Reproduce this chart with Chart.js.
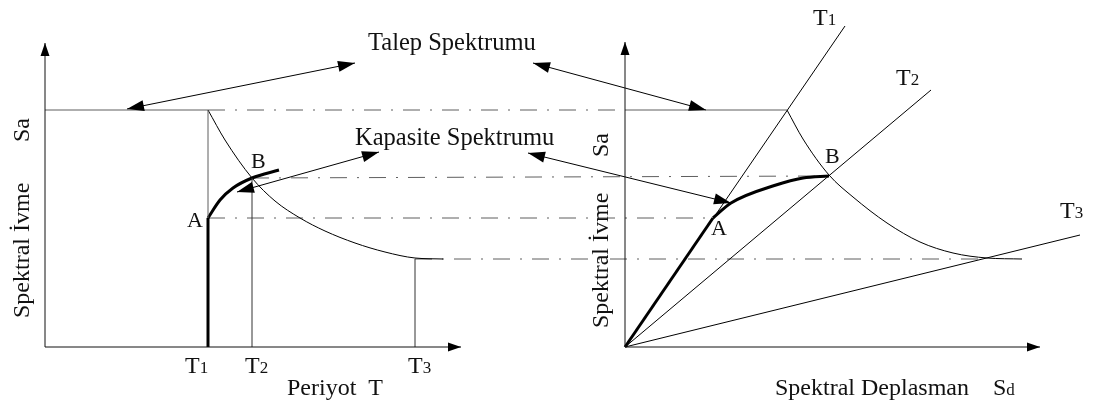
<!DOCTYPE html>
<html>
<head>
<meta charset="utf-8">
<script src="https://cdn.jsdelivr.net/npm/chart.js@4.4.1/dist/chart.umd.min.js"></script>
<style>
  html, body { margin: 0; padding: 0; background: #fff; }
  #wrap { position: relative; width: 1093px; height: 408px; }
</style>
</head>
<body>
<div id="wrap"><canvas id="chart"></canvas></div>
<script>
// ===== DATA =====
// Left panel: spectral acceleration Sa against period T
const periodT   = [163, 207, 370];                 // T1, T2, T3
const saPlateau = 237;
const saA = 129, saB = 169, saT3 = 88;
const demandT   = [163, 180, 207, 230, 255, 280, 310, 340, 370, 398];
const demandSaT = [237, 207, 169, 146, 129, 116, 104, 95, 89, 88];
const capT      = [163, 175, 188, 207, 234];
const capSaT    = [129, 147, 159, 169, 177];

// Right panel: Sa against spectral displacement Sd
const rayEndSd  = [220, 306, 455];                 // T1, T2, T3 radial lines
const rayEndSa  = [321, 257, 112];
const demandSd  = [162, 178, 204, 228, 262, 295, 328, 362, 397];
const demandSaD = [237, 208, 172, 150, 124, 105, 94, 89, 88];
const capSd     = [88, 106, 151, 178, 204];
const capSaD    = [129, 144, 162, 169, 171];

// dash-dot projection lines (left panel units, running into the right panel)
const guideFromT  = [163, 207, 163, 370];
const guideToT    = [580, 784, 668, 941];
const guideFromSa = [237, 169, 129, 88];
const guideToSa   = [237, 171, 129, 88];

// double headed call-out arrows (left panel units)
const arrowX1 = [82, 488, 192, 483];
const arrowY1 = [238, 284, 155, 194];
const arrowX2 = [310, 661, 334, 686];
const arrowY2 = [284, 237, 195, 144];

// ===== HELPERS =====
const pts = (xs, ys) => xs.map((x, i) => ({ x, y: ys[i] }));
const seg = (x1, y1, x2, y2) => [{ x: x1, y: y1 }, { x: x2, y: y2 }];

const line = (data, opts = {}) => Object.assign({
  data,
  xAxisID: 'xL',
  borderColor: '#000',
  borderWidth: 1,
  pointRadius: 0,
  showLine: true,
  tension: 0,
  fill: false,
}, opts);

const grey = '#5e5e5e';
const dashDot = [17, 10, 2, 10];

const datasets = [
  // axes
  line(seg(0, 0, 0, 304), { borderColor: '#111', axisArrow: true }),
  line(seg(0, 0, 416, 0), { borderColor: '#111', axisArrow: true }),
  line(seg(0, 0, 0, 305), { xAxisID: 'xR', borderColor: '#111', axisArrow: true }),
  line(seg(0, 0, 415, 0), { xAxisID: 'xR', borderColor: '#111', axisArrow: true }),

  // left panel
  line(seg(0, saPlateau, periodT[0], saPlateau), { borderColor: grey }),
  line(seg(periodT[0], saA, periodT[0], saPlateau), { borderColor: grey }),
  line(seg(periodT[1], 0, periodT[1], saB), { borderColor: '#333' }),
  line(seg(periodT[2], 0, periodT[2], saT3), { borderColor: '#333' }),
  line(pts(demandT, demandSaT), { cubicInterpolationMode: 'monotone' }),
  line(seg(periodT[0], 0, periodT[0], saA), { borderWidth: 3 }),
  line(pts(capT, capSaT), { borderWidth: 3, cubicInterpolationMode: 'monotone' }),

  // right panel
  line(seg(0, saPlateau, demandSd[0], saPlateau), { xAxisID: 'xR', borderColor: grey }),
  ...rayEndSd.map((sd, i) => line(seg(0, 0, sd, rayEndSa[i]), { xAxisID: 'xR' })),
  line(pts(demandSd, demandSaD), { xAxisID: 'xR', cubicInterpolationMode: 'monotone' }),
  line(seg(0, 0, capSd[0], capSaD[0]), { xAxisID: 'xR', borderWidth: 3 }),
  line(pts(capSd, capSaD), { xAxisID: 'xR', borderWidth: 3, cubicInterpolationMode: 'monotone' }),

  // projections
  ...guideFromT.map((t, i) => line(seg(t, guideFromSa[i], guideToT[i], guideToSa[i]),
    { borderColor: grey, borderDash: dashDot })),

  // call-out arrows
  ...arrowX1.map((x, i) => line(seg(x, arrowY1[i], arrowX2[i], arrowY2[i]), { callout: true })),
];

// ===== ARROWHEADS + TEXT =====
function head(ctx, fromX, fromY, tipX, tipY, len, half) {
  const a = Math.atan2(tipY - fromY, tipX - fromX);
  ctx.beginPath();
  ctx.moveTo(tipX, tipY);
  ctx.lineTo(tipX - len * Math.cos(a) + half * Math.sin(a), tipY - len * Math.sin(a) - half * Math.cos(a));
  ctx.lineTo(tipX - len * Math.cos(a) - half * Math.sin(a), tipY - len * Math.sin(a) + half * Math.cos(a));
  ctx.closePath();
  ctx.fill();
}

const serif = '"Liberation Serif", "Times New Roman", serif';

function label(ctx, text, x, y, size) {
  ctx.font = `${size}px ${serif}`;
  ctx.fillText(text, x, y);
  return ctx.measureText(text).width;
}
// main text followed by a smaller trailing part on the same baseline (T1, Sd ...)
function labelSub(ctx, main, small, x, y, size = 24, smallSize = 17) {
  const w = label(ctx, main, x, y, size);
  label(ctx, small, x + w, y, smallSize);
}

const decorations = {
  id: 'decorations',
  afterDatasetsDraw(chart) {
    const ctx = chart.ctx;
    ctx.save();
    ctx.fillStyle = '#000';
    chart.data.datasets.forEach((ds, i) => {
      const p = chart.getDatasetMeta(i).data;
      if (ds.axisArrow) head(ctx, p[0].x, p[0].y, p[1].x, p[1].y, 13, 4.5);
      if (ds.callout) {
        head(ctx, p[1].x, p[1].y, p[0].x, p[0].y, 17, 5.5);
        head(ctx, p[0].x, p[0].y, p[1].x, p[1].y, 17, 5.5);
      }
    });

    ctx.fillStyle = '#111';
    ctx.textBaseline = 'alphabetic';
    label(ctx, 'Talep Spektrumu', 368, 50, 24.5);
    label(ctx, 'Kapasite Spektrumu', 355, 145, 24.5);

    // left panel
    labelSub(ctx, 'T', '1', 185, 373);
    labelSub(ctx, 'T', '2', 245, 373);
    labelSub(ctx, 'T', '3', 408, 373);
    label(ctx, 'Periyot  T', 287, 395, 24);
    label(ctx, 'A', 187, 227, 22);
    label(ctx, 'B', 251, 168, 22);

    // right panel
    labelSub(ctx, 'T', '1', 813, 25);
    labelSub(ctx, 'T', '2', 896, 85);
    labelSub(ctx, 'T', '3', 1060, 218);
    label(ctx, 'A', 711, 235, 22);
    label(ctx, 'B', 825, 163, 22);
    label(ctx, 'Spektral Deplasman', 775, 395, 24);
    labelSub(ctx, 'S', 'd', 993, 395);

    // rotated axis titles
    [[29, 318, 142], [608, 328, 157]].forEach(([bx, yTitle, ySa]) => {
      ctx.save();
      ctx.translate(bx, yTitle);
      ctx.rotate(-Math.PI / 2);
      label(ctx, 'Spektral İvme', 0, 0, 24);
      ctx.restore();
      ctx.save();
      ctx.translate(bx, ySa);
      ctx.rotate(-Math.PI / 2);
      label(ctx, 'Sa', 0, 0, 24);
      ctx.restore();
    });
    ctx.restore();
  }
};

new Chart(document.getElementById('chart'), {
  type: 'scatter',
  data: { datasets },
  options: {
    responsive: true,
    maintainAspectRatio: false,
    animation: false,
    layout: { padding: 0 },
    plugins: { legend: { display: false }, tooltip: { enabled: false } },
    scales: {
      xL: { type: 'linear', display: false, min: -45, max: 1048 },
      xR: { type: 'linear', display: false, min: -625, max: 468 },
      y:  { type: 'linear', display: false, min: -61, max: 347 },
    }
  },
  plugins: [decorations]
});
</script>
</body>
</html>
